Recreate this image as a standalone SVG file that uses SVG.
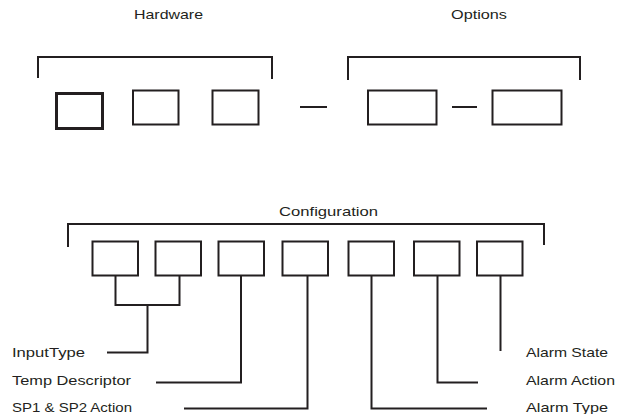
<svg xmlns="http://www.w3.org/2000/svg" width="624" height="414" viewBox="0 0 624 414">
<style>
.t{font-family:"Liberation Sans",Arial,sans-serif;font-size:13.5px;fill:#231f20}
.b{fill:none;stroke:#231f20;stroke-width:2}
.k{fill:none;stroke:#231f20;stroke-width:2}
.c{fill:none;stroke:#231f20;stroke-width:2}
</style>
<rect width="624" height="414" fill="#fff"/>
<g id="headers">
<text class="t" x="134" y="19" textLength="69" lengthAdjust="spacingAndGlyphs">Hardware</text>
<text class="t" x="451" y="19" textLength="56" lengthAdjust="spacingAndGlyphs">Options</text>
<text class="t" x="279" y="216" textLength="99" lengthAdjust="spacingAndGlyphs">Configuration</text>
</g>
<g id="brackets">
<path class="k" d="M38,78 V57 H272 V79"/>
<path class="k" d="M348,80 V57 H580 V80"/>
<path class="k" d="M68,247 V224 H544 V245"/>
</g>
<g id="hw1"><rect class="b" x="56.5" y="93.5" width="46" height="35" style="stroke-width:3"/></g>
<g id="hw2"><rect class="b" x="133" y="90.5" width="45.5" height="34"/></g>
<g id="hw3"><rect class="b" x="212.5" y="90.5" width="46" height="34"/></g>
<g id="dash1"><path class="k" d="M300,107 H327"/></g>
<g id="opt1"><rect class="b" x="368" y="90.5" width="68.5" height="34"/></g>
<g id="dash2"><path class="k" d="M452,107 H477"/></g>
<g id="opt2"><rect class="b" x="492.5" y="90.5" width="69" height="34"/></g>
<g id="cfg1"><rect class="b" x="92.5" y="241.5" width="45.5" height="34"/></g>
<g id="cfg2"><rect class="b" x="155.5" y="241.5" width="45.5" height="34"/></g>
<g id="cfg3"><rect class="b" x="218.5" y="241.5" width="45.5" height="34"/></g>
<g id="cfg4"><rect class="b" x="282.5" y="241.5" width="45.5" height="34"/></g>
<g id="cfg5"><rect class="b" x="348.5" y="241.5" width="45.5" height="34"/></g>
<g id="cfg6"><rect class="b" x="414" y="241.5" width="45.5" height="34"/></g>
<g id="cfg7"><rect class="b" x="477" y="241.5" width="45.5" height="34"/></g>
<g id="connectors">
<path class="c" d="M115.5,276 V305 H179.5 V276"/>
<path class="c" d="M147.5,305 V352.5 H107"/>
<path class="c" d="M241,276 V382.5 H156"/>
<path class="c" d="M307.5,276 V408.5 H184"/>
<path class="c" d="M371.5,276 V408.5 H487"/>
<path class="c" d="M437.5,276 V382.5 H478"/>
<path class="c" d="M500.5,276 V351"/>
</g>
<g id="lbl-input"><text class="t" x="12" y="357" textLength="73" lengthAdjust="spacingAndGlyphs">InputType</text></g>
<g id="lbl-temp"><text class="t" x="12" y="385" textLength="119" lengthAdjust="spacingAndGlyphs">Temp Descriptor</text></g>
<g id="lbl-sp"><text class="t" x="12" y="412" textLength="120" lengthAdjust="spacingAndGlyphs">SP1 &amp; SP2 Action</text></g>
<g id="lbl-state"><text class="t" x="526" y="357" textLength="82" lengthAdjust="spacingAndGlyphs">Alarm State</text></g>
<g id="lbl-action"><text class="t" x="526" y="385" textLength="89" lengthAdjust="spacingAndGlyphs">Alarm Action</text></g>
<g id="lbl-type"><text class="t" x="526" y="412" textLength="82" lengthAdjust="spacingAndGlyphs">Alarm Type</text></g>
</svg>
